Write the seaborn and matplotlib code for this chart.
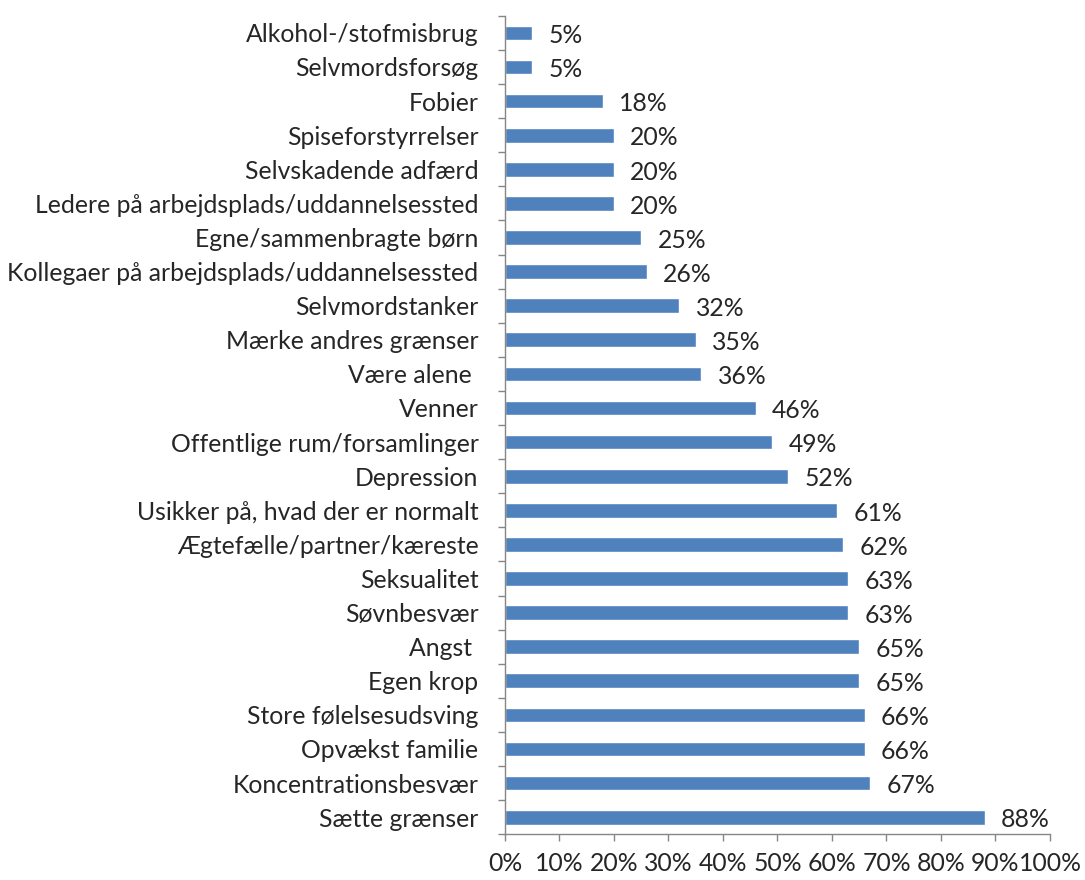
import pandas as pd
import seaborn as sns
import matplotlib.pyplot as plt
from matplotlib.ticker import FixedLocator, PercentFormatter

# categories top to bottom
categories = [
    "Alkohol-/stofmisbrug",
    "Selvmordsforsøg",
    "Fobier",
    "Spiseforstyrrelser",
    "Selvskadende adfærd",
    "Ledere på arbejdsplads/uddannelsessted",
    "Egne/sammenbragte børn",
    "Kollegaer på arbejdsplads/uddannelsessted",
    "Selvmordstanker",
    "Mærke andres grænser",
    "Være alene ",
    "Venner",
    "Offentlige rum/forsamlinger",
    "Depression",
    "Usikker på, hvad der er normalt",
    "Ægtefælle/partner/kæreste",
    "Seksualitet",
    "Søvnbesvær",
    "Angst ",
    "Egen krop",
    "Store følelsesudsving",
    "Opvækst familie",
    "Koncentrationsbesvær",
    "Sætte grænser",
]
values = [5, 5, 18, 20, 20, 20, 25, 26, 32, 35, 36, 46, 49, 52,
          61, 62, 63, 63, 65, 65, 66, 66, 67, 88]
x_ticks = list(range(0, 101, 10))

df = pd.DataFrame({"Kategori": categories, "Andel": values})

sns.set_style("white")
plt.rcParams["font.family"] = ["Lato", "DejaVu Sans"]
fs = 17.8

fig = plt.figure(figsize=(10.85, 8.8), dpi=100)
ax = fig.add_axes([0.4654, 0.052, 0.9677 - 0.4654, 0.982 - 0.052])

sns.barplot(data=df, y="Kategori", x="Andel", orient="h", color="#4F81BD",
            saturation=1, width=0.43, ax=ax)

# data labels
for i, v in enumerate(values):
    ax.text(v + 3.0, i + 0.08, f"{v}%", va="center", ha="left", fontsize=fs)

ax.set_xlim(0, 100)
ax.set_ylim(len(categories) - 0.5, -0.5)
ax.set_xlabel("")
ax.set_ylabel("")

ax.xaxis.set_major_locator(FixedLocator(x_ticks))
ax.xaxis.set_major_formatter(PercentFormatter(decimals=0))
ax.tick_params(axis="x", length=5, width=1, color="#868686", direction="out",
               labelsize=fs, pad=8, bottom=True)

# y ticks between categories, labels at the centres
ax.yaxis.set_minor_locator(FixedLocator([i - 0.5 for i in range(len(categories) + 1)]))
ax.tick_params(axis="y", which="major", length=0, labelsize=fs, pad=19)
ax.tick_params(axis="y", which="minor", length=5, width=1, color="#868686",
               direction="out", left=True)

for side in ["top", "right"]:
    ax.spines[side].set_visible(False)
for side in ["left", "bottom"]:
    ax.spines[side].set_color("#868686")
    ax.spines[side].set_linewidth(1)

fig.savefig("out.png", dpi=100)
